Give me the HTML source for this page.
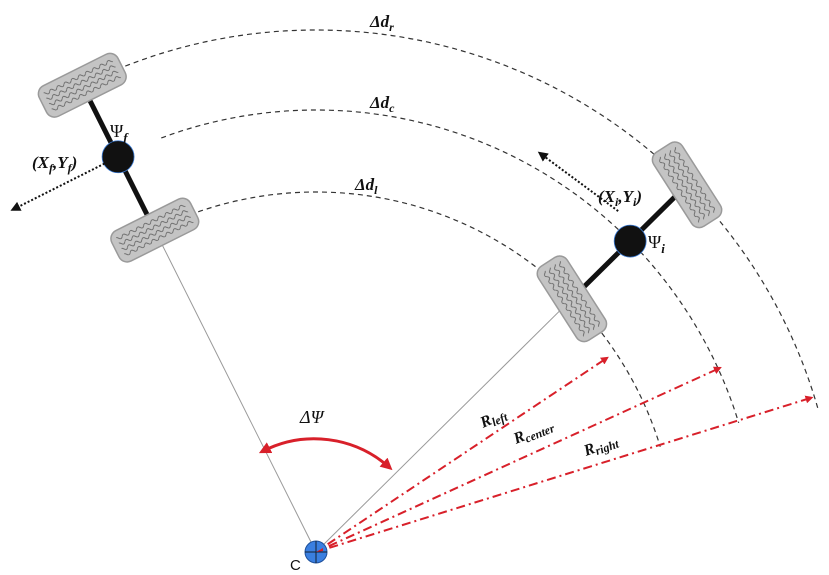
<!DOCTYPE html>
<html><head><meta charset="utf-8"><style>
html,body{margin:0;padding:0;background:#fff}
svg{display:block}
.lbl{font-family:"Liberation Serif",serif;font-weight:bold;font-style:italic;fill:#111}
</style></head><body>
<svg id="s" width="829" height="575" viewBox="0 0 829 575" xmlns="http://www.w3.org/2000/svg">
<defs>
<marker id="ar" markerWidth="8" markerHeight="8" refX="6" refY="4" orient="auto" markerUnits="userSpaceOnUse"><path d="M0,0 L8,4 L0,8 z" fill="#d8202a"/></marker>
<marker id="ar2" markerWidth="12" markerHeight="12" refX="8" refY="6" orient="auto-start-reverse" markerUnits="userSpaceOnUse"><path d="M0,0 L12,6 L0,12 z" fill="#d8202a"/></marker>
<marker id="ab" markerWidth="10" markerHeight="10" refX="6" refY="5" orient="auto" markerUnits="userSpaceOnUse"><path d="M0,0 L10,5 L0,10 z" fill="#111"/></marker>
<pattern id="tread" width="8" height="6" patternUnits="userSpaceOnUse"><path d="M0,3 Q2,0 4,3 T8,3" fill="none" stroke="#555" stroke-width="0.7"/></pattern>
</defs>
<g id="g"></g>
<text class="lbl" x="370" y="27" font-size="17">Δd<tspan font-size="12" dy="4">r</tspan></text>
<text class="lbl" x="370" y="108" font-size="17">Δd<tspan font-size="12" dy="4">c</tspan></text>
<text class="lbl" x="355" y="190" font-size="17">Δd<tspan font-size="12" dy="4">l</tspan></text>
<text x="110" y="137" font-family="Liberation Serif,serif" font-size="18" fill="#111">Ψ<tspan font-size="13" dy="5" font-style="italic" font-weight="bold">f</tspan></text>
<text class="lbl" x="32" y="168" font-size="17">(X<tspan font-size="12" dy="4">f</tspan><tspan dy="-4">,Y</tspan><tspan font-size="12" dy="4">f</tspan><tspan dy="-4">)</tspan></text>
<text class="lbl" x="598" y="202" font-size="17">(X<tspan font-size="12" dy="4">i</tspan><tspan dy="-4">,Y</tspan><tspan font-size="12" dy="4">i</tspan><tspan dy="-4">)</tspan></text>
<text x="648" y="248" font-family="Liberation Serif,serif" font-size="18" fill="#111">Ψ<tspan font-size="13" dy="5" font-style="italic" font-weight="bold">i</tspan></text>
<text x="300" y="423" font-family="Liberation Serif,serif" font-style="italic" font-size="18" fill="#111">ΔΨ</text>
<text x="290" y="570" font-family="Liberation Sans,sans-serif" font-size="15" fill="#111">C</text>
<text class="lbl" font-style="normal" font-size="16" transform="translate(483,428) rotate(-24)">R<tspan font-size="12" font-style="italic" dy="3">left</tspan></text>
<text class="lbl" font-style="normal" font-size="16" transform="translate(516,444) rotate(-22)">R<tspan font-size="12" font-style="italic" dy="3">center</tspan></text>
<text class="lbl" font-style="normal" font-size="16" transform="translate(586,456) rotate(-20)">R<tspan font-size="12" font-style="italic" dy="3">right</tspan></text>
</svg>
<script>
const cx=316, cy=552;
const radii=[360,442,522];
const arcNames=['arc-left','arc-center','arc-right'];
const arcEnd=[-17,-17,-16];
const leftAngle=-116.6, rightAngle=-44.7;
const arrowAngles=[-33.7,-24.5,-17.3];
const arrowLens=[350,444,519];
const NS='http://www.w3.org/2000/svg';
const g=document.getElementById('g');
function P(r,a){const t=a*Math.PI/180;return [cx+r*Math.cos(t),cy+r*Math.sin(t)];}
function mk(tag,attrs){const e=document.createElementNS(NS,tag);for(const k in attrs)e.setAttribute(k,attrs[k]);g.appendChild(e);return e;}
let e=mk('line',{x1:cx,y1:cy,x2:P(360,leftAngle)[0],y2:P(360,leftAngle)[1],stroke:'#999','stroke-width':1});


e=mk('line',{x1:cx,y1:cy,x2:P(358,rightAngle)[0],y2:P(358,rightAngle)[1],stroke:'#999','stroke-width':1});


radii.forEach((r,i)=>{const a0=leftAngle+7.5*360/r,a1=arcEnd[i];const s=P(r,a0),t=P(r,a1);
 const el=mk('path',{d:`M${s[0]},${s[1]} A${r},${r} 0 0 1 ${t[0]},${t[1]}`,fill:'none',stroke:'#333','stroke-width':1.2,'stroke-dasharray':'5,4'});
 
 });
arrowAngles.forEach((a,i)=>{const t=P(arrowLens[i],a),s=P(14,a);
 const el=mk('line',{x1:s[0],y1:s[1],x2:t[0],y2:t[1],stroke:'#d8202a','stroke-width':2,'stroke-dasharray':'9,4,2,4','marker-end':'url(#ar)'});
 
 });
function axle(ang,name,extra){
 const a=P(radii[0],ang),b=P(radii[2],ang),c=P(radii[1],ang);
 let el=mk('line',{x1:a[0],y1:a[1],x2:b[0],y2:b[1],stroke:'#111','stroke-width':5});
 
 
 [radii[0],radii[2]].forEach((r,k)=>{const p=P(r,ang);
  const grp=document.createElementNS(NS,'g');grp.setAttribute('transform',`translate(${p[0]},${p[1]}) rotate(${ang+90+extra})`);
  let waves='';for(let j=0;j<4;j++){const y=-8+j*5.3;waves+=`<rect x="-38" y="${y-3}" width="76" height="6" fill="url(#tread)"/>`;}
  grp.innerHTML='<rect x="-44" y="-17" width="88" height="34" rx="9" fill="#c4c4c4" stroke="#9a9a9a" stroke-width="1.5"/>'+waves;
  g.appendChild(grp);
  
  });
 el=mk('circle',{cx:c[0],cy:c[1],r:16,fill:'#111',stroke:'#3a7bd5','stroke-width':0.8});
 
 
 return c;}
const cf=axle(leftAngle,'front',0);
const ci=axle(rightAngle,'rear',12);
e=mk('line',{x1:cf[0]-10,y1:cf[1]+5,x2:14,y2:209,stroke:'#111','stroke-width':2,'stroke-dasharray':'2,2','marker-end':'url(#ab)'});


e=mk('line',{x1:ci[0]-12,y1:ci[1]-30,x2:541,y2:154,stroke:'#111','stroke-width':2,'stroke-dasharray':'2,2','marker-end':'url(#ab)'});


const s=P(114,-118),t=P(112,-49);
e=mk('path',{d:`M${s[0]},${s[1]} A113,113 0 0 1 ${t[0]},${t[1]}`,fill:'none',stroke:'#d8202a','stroke-width':3,'marker-end':'url(#ar2)','marker-start':'url(#ar2)'});


const cg=document.createElementNS(NS,'g');
cg.innerHTML=`<circle cx="${cx}" cy="${cy}" r="11" fill="#3a7fe0" stroke="#1d4f9a" stroke-width="1"/><line x1="${cx-11}" y1="${cy}" x2="${cx+11}" y2="${cy}" stroke="#123" stroke-width="1"/><line x1="${cx}" y1="${cy-11}" x2="${cx}" y2="${cy+11}" stroke="#123" stroke-width="1"/><path d="M${cx},${cy} l7,-4 l0,3 z" fill="#d8202a"/>`;
g.appendChild(cg);


</script>
</body></html>
